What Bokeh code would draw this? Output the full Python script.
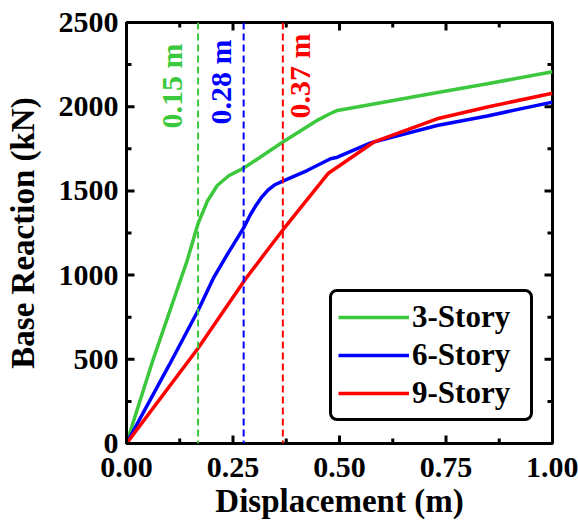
import numpy as np
from bokeh.plotting import figure
from bokeh.models import FixedTicker, Span, Legend, LegendItem, ColumnDataSource
from bokeh.core.properties import value
from bokeh.embed import file_html
from bokeh.resources import INLINE

# ---- data ----
disp_3 = [0.0, 0.06, 0.1425, 0.168, 0.19, 0.213, 0.24, 0.275, 0.367, 0.45, 0.475, 0.495, 0.6, 0.714, 0.847, 1.0]
force_3 = [0, 480, 1087, 1306, 1440, 1532, 1590, 1635, 1790, 1922, 1955, 1978, 2025, 2077, 2136, 2207]

disp_6 = [0.0, 0.1, 0.168, 0.205, 0.236, 0.275, 0.291, 0.305, 0.318, 0.332, 0.347, 0.367, 0.424, 0.479, 0.495, 0.573, 0.729, 0.847, 1.0]
force_6 = [0, 465, 790, 987, 1120, 1280, 1360, 1418, 1465, 1505, 1535, 1558, 1621, 1691, 1700, 1785, 1888, 1945, 2027]

disp_9 = [0.0, 0.168, 0.279, 0.33, 0.367, 0.432, 0.474, 0.58, 0.729, 0.85, 1.0]
force_9 = [0, 566, 975, 1146, 1268, 1473, 1605, 1789, 1928, 2000, 2080]

series_names = ["3-Story", "6-Story", "9-Story"]
series_colors = ["#3cc83c", "#0000ff", "#ff0000"]

yield_disp = [0.168, 0.275, 0.367]
yield_labels = ["0.15 m", "0.28 m", "0.37 m"]
label_x = [0.106, 0.221, 0.407]
label_y = [1870, 1895, 1930]

x_ticks = [0.0, 0.25, 0.5, 0.75, 1.0]
x_minor = [0.125, 0.375, 0.625, 0.875]
y_ticks = [0, 500, 1000, 1500, 2000, 2500]
y_minor = [250, 750, 1250, 1750, 2250]

FONT = "Liberation Serif"
X0, X1, Y0, Y1 = 0.0, 1.0, 0, 2500

p = figure(width=578, height=522, output_backend="svg", toolbar_location=None,
           x_range=(X0, X1), y_range=(Y0, Y1),
           min_border_left=126, min_border_right=26, min_border_top=22, min_border_bottom=79)
p.grid.visible = False
p.outline_line_color = "black"
p.outline_line_width = 3
p.outline_line_alpha = 1.0
p.background_fill_color = "white"
p.border_fill_color = "white"

for ax in (p.xaxis[0], p.yaxis[0]):
    ax.axis_line_width = 3
    ax.axis_line_color = "black"
    ax.major_tick_in = 0
    ax.major_tick_out = 0
    ax.minor_tick_in = 0
    ax.minor_tick_out = 0
    ax.major_label_text_font = FONT
    ax.major_label_text_font_style = "bold"
    ax.major_label_text_font_size = "30px"
    ax.major_label_text_color = "black"
    ax.axis_label_text_font = FONT
    ax.axis_label_text_font_style = "bold"
    ax.axis_label_text_font_size = "33px"
    ax.axis_label_text_color = "black"

p.xaxis[0].ticker = FixedTicker(ticks=x_ticks, minor_ticks=x_minor)
p.xaxis[0].major_label_overrides = {0.0: "0.00", 0.25: "0.25", 0.5: "0.50", 0.75: "0.75", 1.0: "1.00"}
p.xaxis[0].axis_label = "Displacement (m)"
p.xaxis[0].major_label_standoff = 14
p.xaxis[0].axis_label_standoff = 3

p.yaxis[0].ticker = FixedTicker(ticks=y_ticks, minor_ticks=y_minor)
p.yaxis[0].axis_label = "Base Reaction (kN)"
p.yaxis[0].major_label_standoff = 8
p.yaxis[0].axis_label_standoff = 15

# inward tick marks on all four sides: dash markers centred on the frame edges
# (size in screen pixels; the half inside the frame is visible)
MAJ, MIN = 16, 10
xt_in = [t for t in x_ticks if X0 < t < X1]
yt_in = [t for t in y_ticks if Y0 < t < Y1]
tx, ty, tsize, tang = [], [], [], []
for ticks, ln in ((xt_in, MAJ), (x_minor, MIN)):
    for t in ticks:
        tx += [t, t]; ty += [Y0, Y1]; tsize += [ln, ln]; tang += [np.pi / 2, np.pi / 2]
for ticks, ln in ((yt_in, MAJ), (y_minor, MIN)):
    for t in ticks:
        tx += [X0, X1]; ty += [t, t]; tsize += [ln, ln]; tang += [0.0, 0.0]
tick_src = ColumnDataSource(dict(x=tx, y=ty, s=tsize, a=tang))
p.scatter(x="x", y="y", size="s", angle="a", marker="dash", source=tick_src,
          line_color="black", line_width=3, fill_color=None)

# dashed yield markers
for xd, c in zip(yield_disp, series_colors):
    p.add_layout(Span(location=xd, dimension="height", line_color=c, line_width=2, line_dash="7 4"))

# curves
renderers = []
for xs, ys, c in zip([disp_3, disp_6, disp_9], [force_3, force_6, force_9], series_colors):
    renderers.append(p.line(xs, ys, line_color=c, line_width=3.5))

# rotated labels
src = ColumnDataSource(dict(x=label_x, y=label_y, t=yield_labels, c=series_colors))
p.text(x="x", y="y", text="t", text_color="c", source=src, angle=np.pi / 2,
       text_font=value(FONT), text_font_style="bold", text_font_size="30px",
       text_align="left", text_baseline="alphabetic")

legend = Legend(items=[LegendItem(label=n, renderers=[r]) for n, r in zip(series_names, renderers)],
                location=(203, 22))
legend.label_text_font = FONT
legend.label_text_font_style = "bold"
legend.label_text_font_size = "31px"
legend.label_text_color = "black"
legend.glyph_width = 71
legend.glyph_height = 38
legend.label_height = 38
legend.label_width = 112
legend.label_standoff = 3
legend.spacing = 0
legend.padding = 6
legend.margin = 0
legend.border_line_color = "black"
legend.border_line_alpha = 1.0
legend.border_line_width = 3
legend.background_fill_alpha = 1.0
try:
    legend.border_radius = 8
except Exception:
    pass
p.add_layout(legend, "center")

open("out.html", "w").write(file_html(p, INLINE))
